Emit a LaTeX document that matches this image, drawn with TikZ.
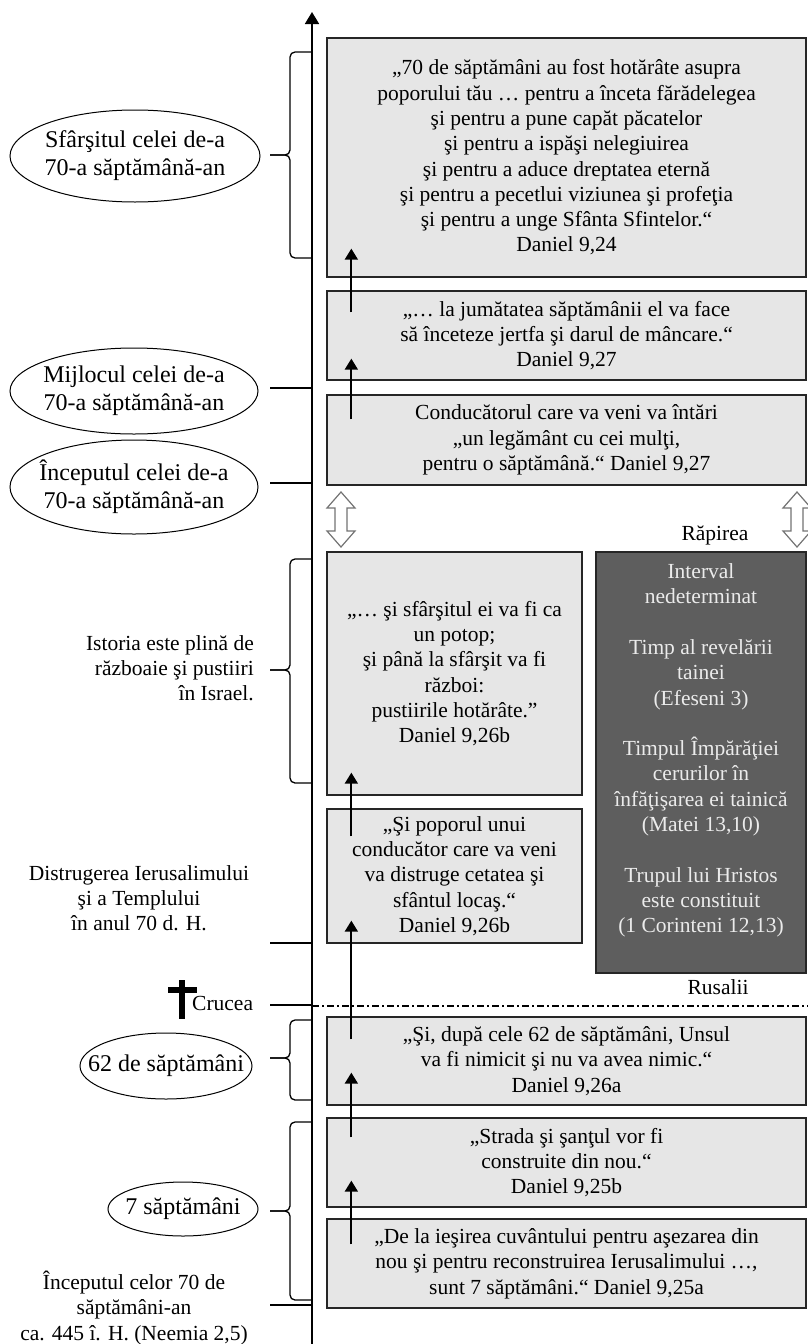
\documentclass[tikz,border=0pt]{standalone}
\usepackage{fontspec}
\setmainfont{Liberation Serif}
\usetikzlibrary{arrows.meta}
\definecolor{boxgray}{HTML}{E6E6E6}
\definecolor{gapgray}{HTML}{5E5E5E}
\newcommand\boxfont{\fontsize{21.5}{25.3}\selectfont}
\newcommand\ovalfont{\fontsize{24}{28}\selectfont}
% left brace on the time line: top, tip, bottom
\newcommand\timebrace[3]{%
  \draw[tick, rounded corners=5pt] (312,#1) -- (290,#1) -- (290,#2) -- (270,#2);
  \draw[tick, rounded corners=5pt] (270,#2) -- (290,#2) -- (290,#3) -- (312,#3);
}
\tikzset{
  quote/.style={draw=black!85, fill=boxgray, line width=1.3pt, align=center, inner sep=0pt, font=\boxfont},
  gapbox/.style={draw=black!85, fill=gapgray, line width=1.3pt, inner sep=0pt},
  gaptext/.style={align=center, font=\boxfont, text=black!8},
  period/.style={align=center, font=\ovalfont, inner sep=0pt},
  note/.style={align=center, font=\boxfont, inner sep=0pt},
  tick/.style={line width=1.3pt},
  timeline/.style={line width=1.8pt, -{Triangle[length=12pt,width=14pt]}},
  link/.style={line width=1.8pt, -{Triangle[length=11pt,width=13pt]}},
}
\begin{document}
\begin{tikzpicture}[x=1pt,y=-1pt]
    \useasboundingbox (0,0) rectangle (808,1344);

    % quotations
    \node[quote, minimum width=479pt, minimum height=239pt] (q1) at (566.5,157.5) {„70 de săptămâni au fost hotărâte asupra\\poporului tău … pentru a înceta fărădelegea\\şi pentru a pune capăt păcatelor\\şi pentru a ispăşi nelegiuirea\\şi pentru a aduce dreptatea eternă\\şi pentru a pecetlui viziunea şi profeţia\\şi pentru a unge Sfânta Sfintelor.“\\Daniel 9,24};
    \node[quote, minimum width=479pt, minimum height=89pt] (q2) at (566.5,335.5) {„… la jumătatea săptămânii el va face\\să înceteze jertfa şi darul de mâncare.“\\Daniel 9,27};
    \node[quote, minimum width=479pt, minimum height=90pt] (q3) at (566.5,440) {Conducătorul care va veni va întări\\„un legământ cu cei mulţi,\\pentru o săptămână.“ Daniel 9,27};
    \node[quote, minimum width=255pt, minimum height=243pt] (q4) at (454.5,673.5) {„… şi sfârşitul ei va fi ca\\un potop;\\şi până la sfârşit va fi\\război:\\pustiirile hotărâte.”\\Daniel 9,26b};
    \node[quote, minimum width=255pt, minimum height=134pt] (q5) at (454.5,876) {„Şi poporul unui\\conducător care va veni\\va distruge cetatea şi\\sfântul locaş.“\\Daniel 9,26b};
    \node[quote, minimum width=479pt, minimum height=88pt] (q6) at (566.5,1061) {„Şi, după cele 62 de săptămâni, Unsul\\va fi nimicit şi nu va avea nimic.“\\Daniel 9,26a};
    \node[quote, minimum width=479pt, minimum height=89pt] (q7) at (566.5,1162.5) {„Strada şi şanţul vor fi\\construite din nou.“\\Daniel 9,25b};
    \node[quote, minimum width=479pt, minimum height=89pt] (q8) at (566.5,1263.5) {„De la ieşirea cuvântului pentru aşezarea din\\nou şi pentru reconstruirea Ierusalimului …,\\sunt 7 săptămâni.“ Daniel 9,25a};

    % the gap
    \node[gapbox, minimum width=210pt, minimum height=421pt] (gap) at (701,762.5) {};
    \node[gaptext] (gaptxt) at ([yshift=12pt]gap.center) {Interval\\nedeterminat\\[25.3pt]Timp al revelării\\tainei\\(Efeseni 3)\\[25.3pt]Timpul Împărăţiei\\cerurilor în\\înfăţişarea ei tainică\\(Matei 13,10)\\[25.3pt]Trupul lui Hristos\\este constituit\\(1 Corinteni 12,13)};
    \node[note] (rapture) at (715,535) {Răpirea};
    \node[note] (pentecost) at (718,987) {Rusalii};
    \foreach \ax in {341,797}
        \draw[line width=1.2pt, draw=black!55, fill=white] (\ax,492) -- ++(14,16) -- ++(-8,0) -- ++(0,23) -- ++(8,0) -- (\ax,547) -- ++(-14,-16) -- ++(8,0) -- ++(0,-23) -- ++(-8,0) -- cycle;

    % time line
    \coordinate (axisbot) at (312,1344);
    \coordinate (axistop) at (312,12);
    \draw[timeline] (axisbot) -- (axistop);
    \draw[line width=1.1pt, dash pattern=on 7pt off 3pt on 2pt off 3pt] (312,1006) -- (808,1006);

    \draw[link] ([shift={(25,26)}]q8.north west) -- ([shift={(25,-27)}]q7.south west);
    \draw[link] ([shift={(25,20)}]q7.north west) -- ([shift={(25,-33)}]q6.south west);
    \draw[link] ([shift={(25,23)}]q6.north west) -- ([shift={(25,-23)}]q5.south west);
    \draw[link] ([shift={(25,28)}]q5.north west) -- ([shift={(25,-23)}]q4.south west);
    \draw[link] ([shift={(25,25)}]q3.north west) -- ([shift={(25,-22)}]q2.south west);
    \draw[link] ([shift={(25,22)}]q2.north west) -- ([shift={(25,-29)}]q1.south west);

    % left side
    \timebrace{52}{155}{258}
    \timebrace{559}{670}{783}
    \timebrace{1020}{1058}{1100}
    \timebrace{1122}{1211}{1300}
    \foreach \ty in {388,483,943,1005,1305}
        \draw[tick] (270,\ty) -- (312,\ty);

    \node[period] (end70) at (135,156) {Sfârşitul celei de-a\\70-a săptămână-an};
    \draw[line width=1pt] (end70.center) ellipse [x radius=125, y radius=46];
    \node[period] (mid70) at (134,391) {Mijlocul celei de-a\\70-a săptămână-an};
    \draw[line width=1pt] (mid70.center) ellipse [x radius=124, y radius=43];
    \node[period] (start70) at (134,487) {Începutul celei de-a\\70-a săptămână-an};
    \draw[line width=1pt] (start70.center) ellipse [x radius=124, y radius=47];
    \node[note, anchor=east, align=right] (wars) at (254,668) {Istoria este plină de\\războaie şi pustiiri\\în Israel.};
    \node[note] (ruin) at (139,898) {Distrugerea Ierusalimului\\şi a Templului\\în anul 70 d. H.};
    \fill (179,980) rectangle (185,1019);
    \fill (168,987) rectangle (197,993);
    \node[note, anchor=west] (cross) at (192,1003) {Crucea};
    \node[period] (w62) at (166,1066) {62 de săptămâni};
    \draw[line width=1pt] (w62.center) ellipse [x radius=86, y radius=33];
    \node[period] (w7) at (183,1209) {7 săptămâni};
    \draw[line width=1pt] (w7.center) ellipse [x radius=75, y radius=27];
    \node[note] (start) at (134,1308) {Începutul celor 70 de\\săptămâni-an\\ca. 445 î. H. (Neemia 2,5)};
\end{tikzpicture}
\end{document}
